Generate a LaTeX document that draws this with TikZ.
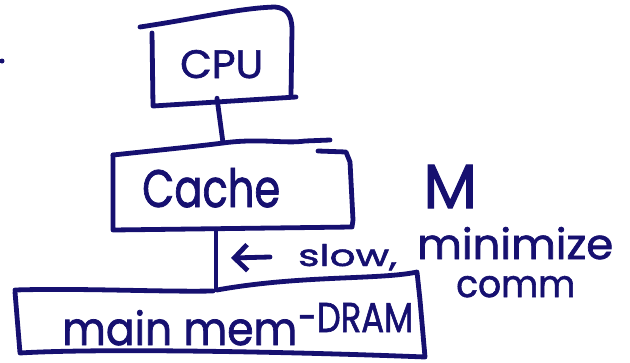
\documentclass[tikz,border=0pt]{standalone}
\usepackage{fontspec}
\setmainfont{Poppins}[FakeBold=1.6]
\usetikzlibrary{arrows.meta}
\definecolor{ink}{RGB}{22,16,112}
\begin{document}
\begin{tikzpicture}[x=1pt,y=1pt,
  ink line/.style={draw=ink,line width=4.8pt,line cap=round,line join=round},
  boxnode/.style={inner sep=0pt,minimum width=#1},
  label text/.style={text=ink,inner sep=0pt,anchor=base west}]
\useasboundingbox (0,0) rectangle (630,-362);
% box nodes (outlines drawn by hand below)
\node[boxnode=140pt,minimum height=86pt] (cpu) at (222,-55) {};
\node[boxnode=240pt,minimum height=86pt] (cache) at (233,-186) {};
\node[boxnode=408pt,minimum height=70pt] (mem) at (219,-325) {};
% CPU outline
\draw[ink line] (140,-27) .. controls (200,-18) and (240,-8) .. (275,-7)
  .. controls (286,-8) and (292,-14) .. (292,-30) -- (291,-95);
\draw[ink line] (152,-33) -- (153,-106) -- (296,-97);
% Cache outline
\draw[ink line] (113,-155) .. controls (160,-150) and (200,-146) .. (223,-143)
  .. controls (260,-138) and (285,-144) .. (305,-141) -- (330,-140);
\draw[ink line] (318,-151) -- (346,-152) -- (350,-162) -- (353,-220) -- (352,-227)
  -- (113,-230) -- (113,-155);
% Main memory outline
\draw[ink line] (15,-290) .. controls (80,-288) and (160,-292) .. (213,-291);
\draw[ink line] (217,-290) .. controls (300,-275) and (380,-280) .. (417,-272)
  -- (420,-300) -- (425,-357) .. controls (300,-352) and (100,-348) .. (20,-353) -- (15,-292);
% texts
\node[label text] (tcpu) at (180,-78) {\resizebox{83pt}{28pt}{CPU}};
\node[label text] (tcache) at (142,-207) {\resizebox{138pt}{39pt}{Cache}};
\node[label text] (tmain) at (62,-345) {\resizebox{235pt}{35pt}{main mem}};
\node[label text] (tdram) at (298,-332) {\resizebox{115pt}{29pt}{-DRAM}};
\node[label text] (tM) at (423,-208) {\resizebox{54pt}{43pt}{M}};
\node[label text] (tslow) at (298,-266) {\resizebox{99pt}{22pt}{slow,}};
\node[label text] (tmin) at (417,-259) {\resizebox{196pt}{32pt}{minimize}};
\node[label text] (tcomm) at (456,-297) {\resizebox{119pt}{21pt}{comm}};
% connectors
\draw[ink line] (cpu.south -| 217,0) -- (cache.north -| 223,0);
\draw[ink line] (cache.south -| 216,0) -- (mem.north -| 216,0);
\coordinate (arrowstart) at (270,-257);
\coordinate (arrowend) at (231,-258);
\draw[ink line,-{Straight Barb[length=13pt,width=26pt,line width=4.8pt]}] (arrowstart) -- (arrowend);
% stray dot
\fill[ink] (2,-61) circle (2.5pt);
\end{tikzpicture}
\end{document}
